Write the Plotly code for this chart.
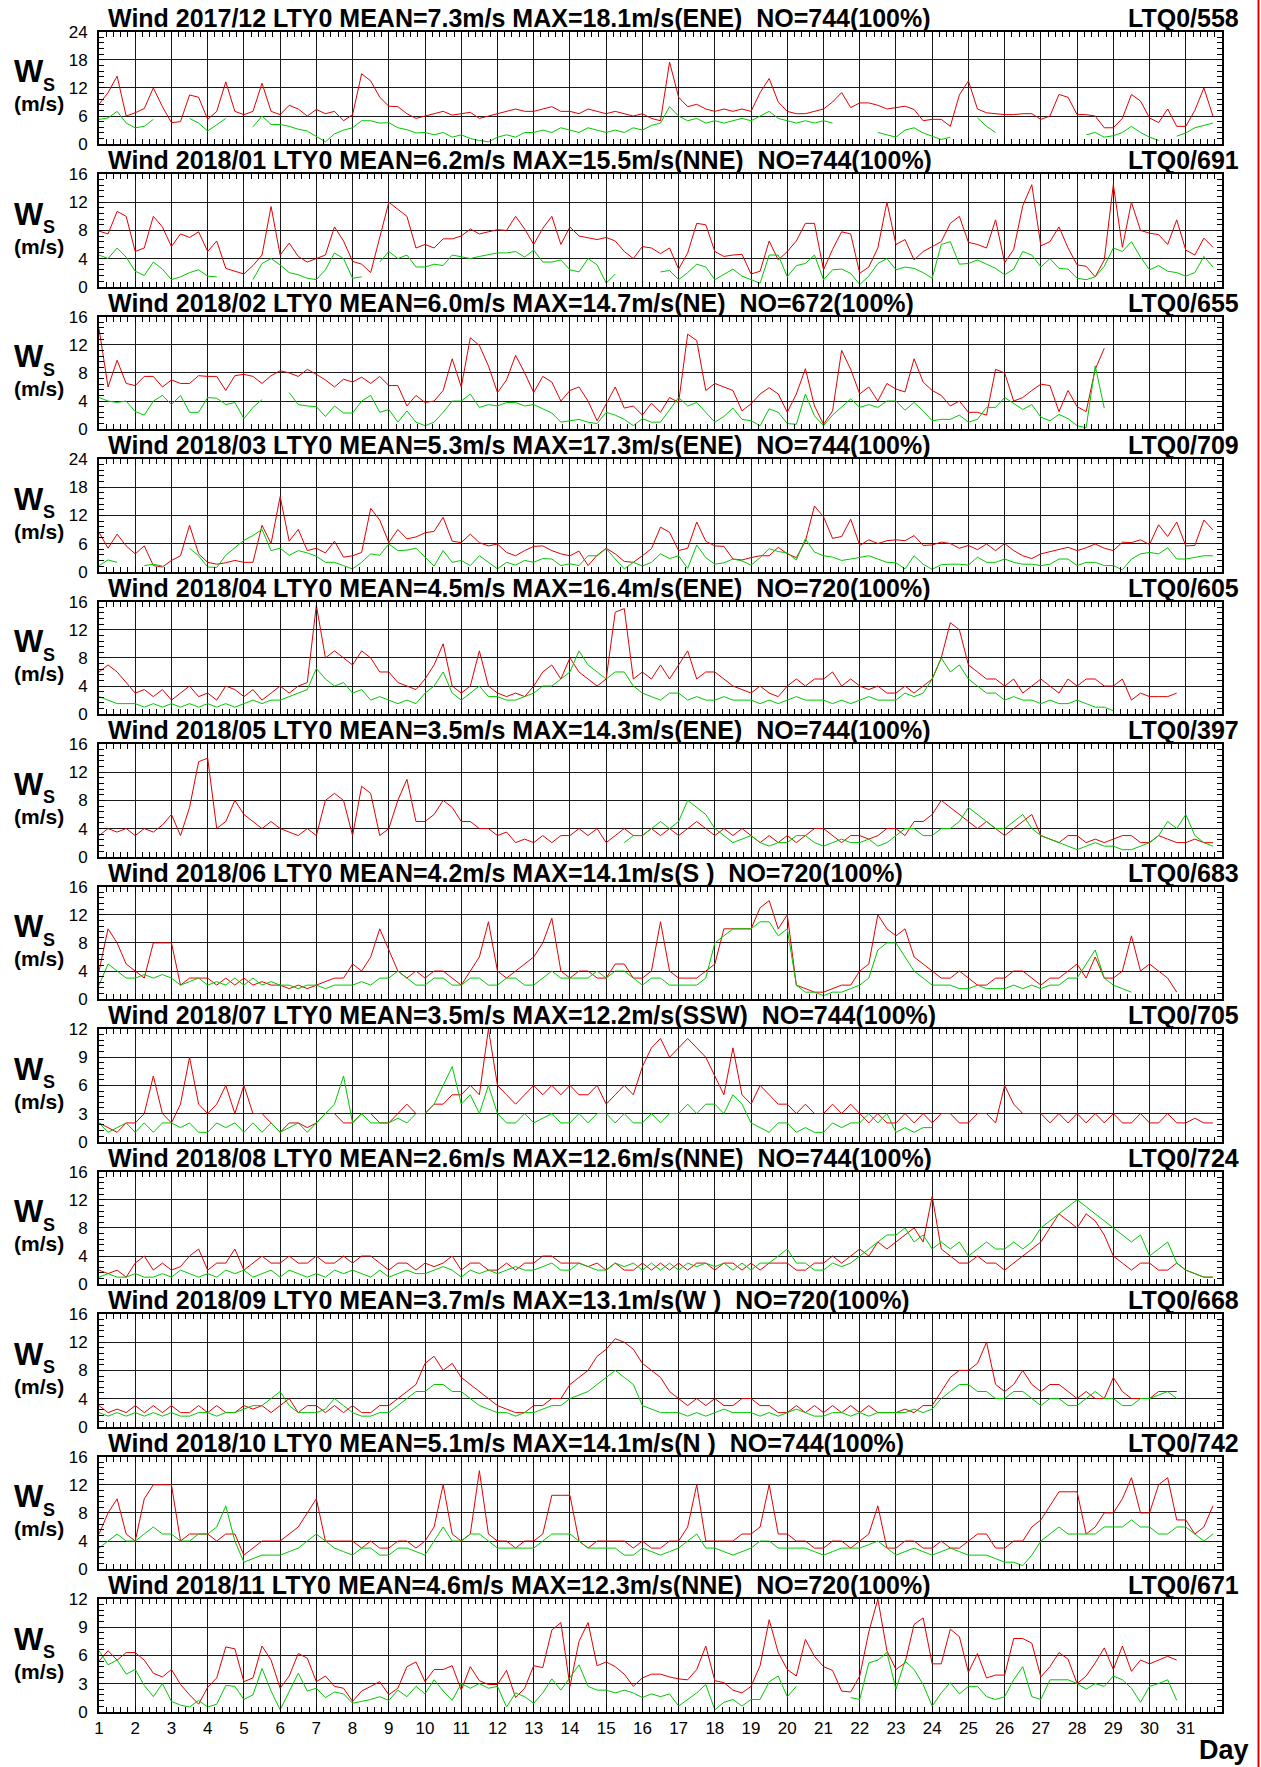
import plotly.graph_objects as go

months = ["2017/12", "2018/01", "2018/02", "2018/03", "2018/04", "2018/05",
          "2018/06", "2018/07", "2018/08", "2018/09", "2018/10", "2018/11"]
n_days = [31, 31, 28, 31, 30, 31, 30, 31, 31, 30, 31, 30]
y_max = [24, 16, 16, 24, 16, 16, 16, 12, 16, 16, 16, 12]
y_step = [6, 4, 4, 6, 4, 4, 4, 3, 4, 4, 4, 3]
mean_ws = [7.3, 6.2, 6.0, 5.3, 4.5, 3.5, 4.2, 3.5, 2.6, 3.7, 5.1, 4.6]
max_ws = [18.1, 15.5, 14.7, 17.3, 16.4, 14.3, 14.1, 12.2, 12.6, 13.1, 14.1, 12.3]
max_dir = ["ENE", "NNE", "NE", "ENE", "ENE", "ENE", "S ", "SSW", "NNE", "W ", "N ", "NNE"]
obs_no = [744, 744, 672, 744, 720, 744, 720, 744, 744, 720, 744, 720]
ltq_no = [558, 691, 655, 709, 605, 397, 683, 705, 724, 668, 742, 671]
day_ticks = list(range(1, 32))

N = None
# All series: 6-hourly readings (4 per day).
# ---- 2017/12 ----
red_1712 = [8.5, 11, 14.5, 6, 6.7, 7.6, 12, 8, 4.6, 4.8, 10.5, 10, 5.3, 7, 13.3, 7,
            6.3, 7, 13, 7, 6.3, 8.3, 7.5, 6, 7.4, 6.5, 7, 5, 6.3, 15, 13.5, 10,
            8.1, 8, 6.5, 5.5, 6, 6.5, 7, 6.2, 6.5, 6.8, 5.5, 6, 6.5, 7, 7.5, 7,
            7, 7.5, 8, 7, 7, 6.5, 7.5, 7, 6.5, 7, 6.5, 6, 6.5, 5.5, 5, 17.5,
            10, 8, 8.5, 7.5, 7, 7.5, 7, 7.5, 7, 11, 14, 9, 7, 6.5, 6.5, 7,
            7.5, 9, 11, 7.8, 8.8, 8.8, 8.3, 7.5, 7.8, 8.1, 7.4, 5, 5.3, 5.3, 3.8, 10.5,
            13.5, 7.5, 6.7, 6.5, 6.3, 6.3, 6.5, 6.5, 5.3, 6, 10.6, 10, 6.3, 6.3, 6, 3.5,
            3.5, 5.5, 10.6, 9.2, 5.6, 4.6, 7.5, 3.8, 3.8, 7.2, 12, 6]
green_1712 = [5.3, 5.6, 7, 4.5, 3.5, 3.8, 5.3, N, N, N, 5.5, 4.5, 2.8, 4.2, 5.5, N,
              N, 3.7, 6, 4.2, 4.2, 3.8, 3.2, 2.8, 1.7, 0.5, 2.2, 3, 3.5, 5, 5, 4.5,
              4.6, 3.5, 3.1, 2.4, 2.5, 2, 2.5, 1.5, 2, 1.2, 0.8, 0.5, 1.5, 2, 1.5, 2.5,
              2.5, 3, 2.5, 3.5, 3, 2.5, 3.5, 3, 2.5, 3, 2.5, 3.5, 3, 4, 4.5, 8,
              6, 5, 5.5, 4.5, 5, 4.5, 5, 5.5, 5, 6, 7, 5.5, 5, 4.5, 5, 4.5,
              5, 4.5, N, N, N, N, 2.5, 2, 1.5, 3, 3.5, 2.4, 1.7, 1, 1.5, N,
              N, 5.6, 3.8, 2.5, N, N, N, N, N, N, N, N, N, 2, 2.5, 1.5,
              1.8, 2.5, 3.8, 2.5, 1.5, 0.8, N, 1.7, 2.4, 3.5, 4, 4.5]
# ---- 2018/01 ----
red_1801 = [7.9, 7.5, 10.7, 10, 5, 5.5, 10, 8.5, 5.7, 7.5, 7, 7.8, 5, 6.5, 2.6, 2.2,
            1.8, 3, 4.5, 11.4, 4.5, 6.2, 4.3, 3.5, 4, 4.5, 8.5, 6.5, 3.6, 3.2, 2, 7,
            12, 11, 10, 5.5, 6, 5.5, 6.8, 6.8, 7.2, 8.2, 7.5, 7.8, 8.1, 8, 10, 8.2,
            6, 8.3, 10, 6, 8.5, 7.2, 7, 6.7, 7, 6.5, 5, 4, 5.7, 5.5, 4.7, 5.5,
            2.5, 4.8, 9, 8.8, 5, 4.3, 4.5, 4.6, 1.8, 2.2, 6.5, 3.8, 5, 6.5, 9, 9,
            2.4, 5.3, 7.8, 7.5, 1.9, 2.8, 5.5, 12, 6, 6.7, 3.8, 5, 5.7, 6.4, 9, 10,
            6.3, 6, 5.5, 9.5, 3.4, 5.3, 11.5, 14.5, 5.8, 6.4, 8.5, 5.5, 3.1, 2.9, 1.4, 3.8,
            14.5, 5.6, 12, 8, 7.6, 7.4, 6, 9.5, 5.2, 4.5, 6.9, 5.6]
green_1801 = [4.5, 4, 5.5, 4.2, 2.2, 1.6, 3.5, 2.5, 1, 1.4, 2, 2.4, 1.5, 1.4, N, N,
              N, 1, 3.3, 4, 3.1, 2, 1.7, 1.2, 1, 2.4, 4.8, 4, 1.2, 1.4, N, 3.5,
              5, 4, 4.5, 2.8, 2.8, 3.2, 3, 4.5, 4.2, 4, 4.3, 4.5, 4.8, 4.8, 5, 4.2,
              5.2, 3.5, 3.5, 3.8, 2.4, 2.1, 4, 3.1, 0.5, 1.8, N, N, N, N, 2.1, 2.3,
              1, 2, 3.2, 2.8, 1, 1.8, 2.5, 1.5, 1, 0.5, 4.5, 4.5, 1.4, 3, 3.3, 4.5,
              1, 2.4, 2.5, 1.9, 0.3, 1.5, 3.3, 4, 2.4, 2.8, 2.6, 2, 1.2, 6, 6.4, 3.2,
              3.3, 3.8, 3.2, 2.6, 1.7, 2.5, 5, 4.5, 2.8, 4, 2.6, 2.5, 1.2, 1, 1.4, 2.9,
              5.5, 5, 6.4, 4.2, 2.4, 3, 2.2, 2, 1.5, 2, 4.3, 2.8]
# ---- 2018/02 ----
red_1802 = [14.3, 6, 9.8, 6.5, 6.2, 7.5, 7.5, 6, 7, 6.5, 6.5, 7.6, 7.5, 7.5, 5.5, 7.6,
            7.8, 7.5, 6.5, 7.6, 8.3, 8, 7.5, 8.5, 7.8, 7, 6, 7.1, 6.7, 7.4, 6.5, 7.5,
            6.2, 6.2, 3.3, 4.8, 3.8, 4, 5.5, 10, 6, 13, 11.9, 9, 5.2, 7, 10.5, 8,
            5.2, 7.5, 6.7, 4, 5.5, 6, 4, 1.2, 3.6, 6, 3, 3.3, 2, 3.7, 2.4, 4.5,
            3.8, 13.5, 12.6, 5.5, 6.5, 6, 5.5, 2.6, 3.6, 5, 5.9, 5, 2.4, 5, 8.6, 3.3,
            0.7, 2.6, 11.2, 8.5, 5, 6, 4, 6.5, 5.7, 5.3, 10, 6.7, 5.5, 4.8, 3.3, 4,
            2.4, 2.4, 2, 8.5, 8, 4, 4.5, 5.5, 6.4, 6.2, 2.5, 5.5, 3.2, 2.5, 8.5, 11.5]
green_1802 = [4.5, 4, 3.8, 4, 2.5, 2, 4, 4.8, 3.5, 4.8, 2.4, 2.4, 4.5, 4.4, 3.5, 3.8,
              1.5, 3.1, 4.2, N, N, 5.2, 3.5, 3.3, 3.2, 1.8, 3.3, 2.3, 2.3, 4, 4.8, 2.4,
              2.8, 1, 2.6, 1, 0.5, 1, 2.4, 4, 4, 5, 3.1, 3.5, 3.3, 3.8, 3.8, 3.3,
              3.5, 2.9, 2.3, 1, 1.2, 1.4, 1, 0.8, 2.4, 2, 1.4, 0.5, 1.5, 1, 1, 2.8,
              4.5, 3.3, 3.8, 2.4, 1, 1.8, 3, 1.4, 1.2, 0.5, 2.9, 2.4, 0.8, 0.7, 5, 1.9,
              0.5, 2, 3.2, 4.3, 3.1, 3.5, 3.1, 4, 4, 2.7, 3.8, 2.6, 1.2, 1.4, 1.4, 2,
              1, 1.4, 3.1, 3.1, 4.5, 3.6, 2.8, 3.5, 1.7, 1.2, 2.1, 1.5, 0.5, 0.2, 9, 3]
# ---- 2018/03 ----
red_1803 = [8.4, 5, 8, 5.5, 3.8, 5.5, 1.3, 1, 2.4, 3.4, 9.9, 3.8, 2, 1.6, 1.9, 2.4,
            2, 2, 9.9, 6, 16, 6.5, 9, 4.5, 5, 4, 6.5, 3.1, 3.4, 4.1, 13.5, 11,
            6.2, 9, 7, 7.4, 8.3, 8.6, 11.6, 6.5, 6.2, 8, 6.2, 5.5, 5.9, 4.1, 3.4, 4.5,
            5.4, 5.5, 4.5, 3.8, 3.4, 4.4, 1.3, 3.5, 5, 3.8, 2.2, 2, 3.4, 4.9, 9.5, 8.4,
            4.5, 5, 10.6, 6.5, 5.5, 5.4, 2.7, 2.5, 3, 3.4, 3.4, 5.2, 3.8, 3, 6.5, 14,
            11.7, 7.1, 7.5, 11.2, 5.6, 6.8, 6, 6.6, 6.8, 6.6, 7.7, 5.6, 5.7, 6.3, 6, 5,
            5.6, 4.7, 5.9, 4.5, 6, 4.5, 3.4, 2.8, 3.8, 4.3, 4.8, 5.2, 4.5, 5.1, 5.9, 5,
            4.5, 6.3, 6.2, 6.8, 5.8, 10, 7.5, 10.6, 5.5, 5.6, 11, 8.9]
green_1803 = [1.3, 2.5, 2, N, N, 1.3, 1.6, 1.2, N, N, 5, 3.4, 1, 0.9, 3.5, 5,
              6.7, 7.7, 9, 4.5, 5, 3.5, 4.5, 4, 3.3, 2, 2, 1.3, 0.6, 2, 3.8, 3.5,
              5.9, 4.5, 4.6, 5, 3.2, 1.2, 4.5, 2, 2.4, 1.3, 3.4, 2, 0.6, 2, 1.4, 2.4,
              2, 2.8, 2.7, 1.3, 1.7, 1.3, 3.4, 3.4, 4.9, 2.7, 0.6, 2, 1.2, 2, 3.8, 2.8,
              3.4, 0.7, 5.7, 3, 1.6, 1.9, 2.7, 2.3, 1.4, 3, 4.9, 4.3, 4, 2.5, 7, 4.2,
              3.4, 3.1, 2.4, 2.7, 3, 3.4, 2.7, 2, 1.9, 0.6, 3.4, 1.6, 0.5, 1.5, 1.6, 1.6,
              1.4, 3.1, 2, 2, 2.7, 2, 1.6, 1.6, 1.3, 1.6, 2.7, 2.7, 1.3, 2, 2, 1.3,
              1.3, 0.4, 2.7, 3.8, 4.1, 3.8, 5.1, 2.7, 2.7, 3.1, 3.4, 3.4]
# ---- 2018/04 ----
red_1804 = [6, 7, 6, 4.5, 3, 3.5, 2.5, 3.5, 2, 3, 4, 2.5, 3, 2, 4, 3.5,
            2.5, 3.5, 2, 3, 4, 3, 4, 4.5, 15.5, 8, 9, 8, 7, 9, 8, 6,
            6, 4.5, 4, 3.5, 5, 7, 10, 4, 3, 4, 9, 4, 3, 2.5, 3, 2.5,
            4, 6, 7, 5, 8, 6, 5, 4, 5, 14.5, 15, 5, 6, 5, 7, 5,
            7, 9, 5, 6, 6, 5, 4, 3.5, 3, 4, 3, 2.5, 4, 5, 4, 5,
            5, 6, 4, 5, 4, 3.5, 4, 3, 3, 4, 3, 4, 5, 8, 13, 12,
            7, 6, 5, 5, 4, 5, 3, 4, 5, 4, 3, 5, 4, 5, 5, 4,
            4, 5, 2, 3, 2.5, 2.5, 2.5, 3]
green_1804 = [2.5, 2, 1.5, 1.5, 1.5, 1, 1.5, 1, 1.5, 1, 1.5, 1, 1.5, 1, 1.5, 1,
              1.5, 2, 1.5, 2, 2, 2.5, 3, 3.5, 6.5, 5, 4, 4.5, 3, 3.5, 2, 2.5,
              2, 1.5, 2, 1.5, 3, 4, 6, 3, 2, 3, 4, 2.5, 2.5, 2, 2, 2.5,
              3, 4, 4, 5, 6, 9, 7, 6, 5, 6, 6, 4, 3, 2.5, 2, 3,
              3, 2, 2.5, 2, 2, 2.5, 2, 2, 2, 1.5, 2, 1.5, 2, 2.5, 2, 2,
              2, 1.5, 2, 1.5, 2, 2.5, 2, 2, 2, 3, 2.5, 3, 5, 8, 6, 7,
              5, 4, 3, 3, 2, 2.5, 2, 2, 1.5, 2, 1.5, 1.5, 2, 1.5, 1, 1,
              0.5, N, N, N, N, N, N, N]
# ---- 2018/05 ----
red_1805 = [3, 4, 3.5, 4, 3, 4, 3.5, 4.5, 6, 3, 7, 13.5, 14, 4, 5, 8,
            6, 5, 4, 5, 4, 3.5, 3, 4, 3, 8, 9, 8, 3, 10, 9, 3,
            4, 8, 11, 5, 5, 6, 8, 7, 5, 5, 4, 4, 3, 3.5, 2, 2.5,
            2, 3, 2, 3, 3, 4, 3, 4, 2, 3, 4, 3, 3, 4, 3, 4,
            3, 4, 5, 4, 3, 4, 3, 4, 3, 2, 3, 2, 3, 2, 3, 4,
            4, 3, 2, 3, 3, 2.5, 3, 4, 4, 3, 5, 5, 6, 8, 7, 6,
            5, 4, 5, 4, 3, 4, 5, 6, 3, 2.5, 2, 3, 3, 2, 2.5, 2,
            2.5, 3, 3, 2, 2, 3, 2.5, 2, 2, 2.5, 2, 2]
green_1805 = [N, N, N, N, N, N, N, N, N, N, N, N, N, N, N, N,
              N, N, N, N, N, N, N, N, N, N, N, N, N, N, N, N,
              N, N, N, N, N, N, N, N, N, N, N, N, N, N, N, N,
              N, N, N, N, N, N, N, N, N, N, 2, 3, 3, 4, 5, 4,
              5, 8, 7, 6, 4, 3, 2, 2.5, 3, 2, 1.5, 2, 2, 3, 3, 2,
              1.5, 2, 2.5, 2, 2, 2.5, 1.5, 2, 3, 4, 4, 3, 3, 4, 4, 5,
              7, 6, 5, 4, 4, 5, 6, 4, 3, 2.5, 2, 1.5, 1, 1.5, 2, 1.5,
              1.5, 1, 1, 1.5, 2, 3, 5, 4, 6, 3, 2, 1.5]
# ---- 2018/06 ----
red_1806 = [4, 10, 8, 5, 4, 3, 8, 8, 8, 2, 3, 3, 3, 2, 3, 2,
            3, 2, 2.5, 2, 2, 1.5, 2, 1.5, 2, 2.5, 3, 3, 5, 4, 6, 10,
            7, 4, 3, 4, 3, 4, 4, 3, 2, 4, 6, 11, 4, 3, 4, 5,
            6, 8, 11.5, 4, 3, 4, 4, 3, 3, 5, 5, 3, 3, 4, 11, 4,
            3, 3, 3, 4, 5, 10, 10, 10, 10, 13, 14, 10, 12, 2, 1.5, 1,
            1, 1.5, 2, 2, 4, 5, 12, 10, 9, 10, 6, 5, 4, 3, 3, 4,
            3, 2, 2, 3, 3, 4, 4, 3, 2, 3, 3, 4, 5, 3, 6, 3,
            3, 4, 9, 4, 5, 4, 3, 1]
green_1806 = [2, 5, 4, 3, 3, 3.5, 3, 3.5, 3, 2, 2.5, 3, 2, 2.5, 2, 3,
              2, 3, 2, 2.5, 2, 2, 1.5, 2, 2, 1.5, 2, 2, 2, 2.5, 2, 3,
              3, 4, 3, 2, 2, 3, 3, 2, 2, 3, 3, 2, 2, 3, 3, 2,
              2, 3, 4, 3, 3, 3, 3, 4, 3, 4, 4, 3, 2, 3, 3, 2,
              2, 2, 2, 3, 8, 9, 10, 10, 10, 11, 11, 9, 10, 2, 1, 1,
              0.5, 1, 1, 1.5, 2, 3, 7, 8, 8, 6, 4, 3, 2, 2, 2, 1.5,
              1.5, 2, 1.5, 1.5, 1.5, 2, 1.5, 2, 1.5, 2, 2, 3, 3, 5, 7, 3,
              2, 1.5, 1, N, N, N, N, N]
# ---- 2018/07 ----
red_1807 = [2, 1.5, 1, 2, 2, 3, 7, 3, 2, 4, 9, 4, 3, 4, 6, 3,
            6, 3, 3, 2, 1, 2, 2, 1.5, 2, 3, 3, 2, 2, 3, 3, 2,
            2, 3, 4, 3, 3, 4, 4, 5, 5, 6, 5, 12, 6, 5, 4, 5,
            6, 5, 6, 5, 6, 5, 5, 6, 4, 5, 6, 5, 8, 10, 11, 9,
            10, 11, 10, 9, 7, 5, 10, 5, 4, 6, 5, 4, 4, 3, 4, 3,
            3, 4, 3, 4, 3, 2, 3, 2, 2, 3, 2, 3, 2, 3, 3, 2,
            2, 3, 3, 2, 6, 4, 3, 3, 3, 2, 3, 2, 3, 2, 3, 2,
            3, 2, 2, 3, 2, 2, 3, 2, 2, 2.5, 2, 2]
green_1807 = [2, 1, 1.5, 2, 1, 2, 1, 2, 2, 1.5, 2, 1, 1, 2, 1.5, 2,
              1, 2, 1, 2, 1, 1.5, 2, 1, 2, 3, 4, 7, 2, 3, 2, 2,
              2, 2.5, 2, 3, 3, 4, 6, 8, 4, 5, 3, 6, 3, 2, 2, 3,
              2, 2.5, 3, 2, 2, 3, 2, 3, 3, 2, 3, 2, 2, 3, 2, 3,
              3, 4, 3, 4, 4, 3, 5, 4, 2, 1.5, 1, 2, 2, 1, 1.5, 1,
              1, 2, 1.5, 2, 2, 3, 2, 3, 1, 1.5, 1, 1.5, 1.5, N, N, N,
              N, N, N, N, N, N, N, N, N, N, N, N, N, N, N, N,
              N, N, N, N, N, N, N, N, N, N, N, N]
# ---- 2018/08 ----
red_1808 = [2, 1.5, 2, 1, 3, 4, 2, 3, 2, 2.5, 4, 5, 2, 3, 3, 5,
            2, 3, 4, 3, 3, 4, 3, 3, 4, 3, 3, 4, 3, 4, 4, 3,
            2, 3, 3, 2, 3, 2.5, 3, 4, 2, 3, 3, 2, 2, 3, 2, 3,
            3, 4, 4, 3, 3, 3, 2.5, 3, 2, 3, 2, 2, 3, 2, 3, 2,
            3, 2, 3, 3, 2, 3, 3, 2, 3, 2, 3, 3, 3, 2, 2, 3,
            3, 4, 3, 4, 5, 4, 6, 5, 6, 7, 8, 6, 12.5, 5, 4, 3,
            3, 4, 3, 3, 2, 3, 4, 5, 6, 8, 10, 9, 8, 10, 9, 7,
            4, 3, 2, 3, 3, 2, 2, 3, 2, 1.5, 1, 1]
green_1808 = [1, 1.5, 1, 1, 1.5, 1, 1, 1.5, 1, 2, 1.5, 1, 1.5, 1, 2, 1.5,
              2, 1, 1.5, 2, 1, 2, 1.5, 1, 1.5, 1, 2, 1.5, 2, 1.5, 1, 2,
              1, 1.5, 2, 1.5, 1.5, 2, 2.5, 2, 1, 2, 1.5, 2, 1.5, 2, 2.5, 2,
              2, 2.5, 3, 2, 2, 3, 2.5, 2, 2, 3, 2.5, 3, 2, 3, 2, 3,
              2, 3, 2.5, 3, 2.5, 3, 2, 3, 2, 3, 3, 4, 5, 3, 3, 2,
              2, 3, 2.5, 3, 4, 5, 6, 7, 7, 8, 6, 7, 5, 6, 5, 6,
              4, 5, 6, 5, 5, 6, 5, 6, 8, 9, 10, 11, 12, 11, 10, 9,
              8, 7, 6, 7, 4, 5, 6, 3, 2, 1.5, 1, 1]
# ---- 2018/09 ----
red_1809 = [3, 2, 2.5, 2, 3, 2, 3, 2, 3, 2, 2, 3, 2, 3, 2, 2,
            3, 2.5, 3, 2, 3, 4, 2, 3, 3, 2, 3, 2, 3, 2, 2, 3,
            3, 4, 5, 6, 9, 10, 8, 9, 7, 6, 5, 4, 3, 2.5, 2, 2,
            3, 3, 4, 4, 6, 7, 8, 10, 11, 12.5, 12, 11, 9, 8, 7, 5,
            4, 3, 4, 3, 4, 3, 3, 4, 4, 3, 3, 2, 2, 3, 2, 3,
            2, 3, 2, 3, 2, 3, 2, 2, 2, 2.5, 2, 3, 3, 5, 7, 8,
            8, 9, 12, 6, 5, 6, 8, 6, 5, 6, 6, 5, 4, 5, 4, 4,
            7, 5, 4, 4, 4, 5, 5, 5]
green_1809 = [2, 1.5, 2, 1.5, 2, 1.5, 2, 1.5, 2, 1.5, 1.5, 2, 2, 1.5, 2, 2,
              2.5, 3, 3, 4, 5, 3, 2, 2, 2, 2.5, 4, 3, 2, 1.5, 1.5, 2,
              2, 3, 4, 5, 5, 6, 6, 5, 5, 4, 3, 2.5, 2, 2, 1.5, 2,
              2, 2.5, 3, 3, 4, 4.5, 5, 6, 7, 8, 7, 6, 3, 2.5, 2, 2,
              2, 1.5, 2, 1.5, 2, 2.5, 2, 2, 2, 1.5, 2, 1.5, 2, 2.5, 2, 1.5,
              1.5, 2, 2, 1.5, 2, 1.5, 2, 2, 2, 2, 2.5, 2, 2.5, 4, 5, 6,
              6, 5, 5, 4, 4, 5, 5, 4, 3, 4, 4, 3, 3, 4, 5, 4,
              4, 3, 3, 4, 4, 4.5, 5, 4]
# ---- 2018/10 ----
red_1810 = [5, 8, 10, 5, 4, 10, 12, 12, 12, 4, 5, 5, 5, 4, 5, 5,
            2, 3, 4, 4, 4, 5, 6, 8, 10, 4, 4, 4, 4, 3, 4, 3,
            3, 4, 4, 3, 4, 6, 12, 5, 4, 5, 14, 5, 4, 4, 3, 4,
            4, 5, 10.5, 10.5, 10.5, 4, 3, 4, 4, 4, 4, 3, 4, 3, 3, 4,
            4, 6, 12, 4, 4, 4, 4, 5, 5, 6, 12, 5, 5, 4, 4, 3,
            3, 4, 4, 3, 4, 5, 9, 3, 3, 4, 4, 3, 3, 4, 3, 3,
            4, 5, 5, 3, 3, 4, 4, 6, 7, 9, 11, 11, 11, 5, 6, 8,
            8, 10, 13, 8, 8, 12, 13, 7, 7, 5, 6, 9]
green_1810 = [3, 4, 5, 4, 4, 5, 6, 5, 5, 4, 4, 5, 5, 6, 9, 4,
              1, 1.5, 2, 2, 2, 2.5, 3, 4, 5, 4, 3, 2.5, 2, 3, 3, 2,
              2, 3, 3, 2.5, 2, 4, 6, 4, 4, 5, 5, 4, 3, 3, 3, 3,
              3, 4, 5, 5, 5, 4, 3, 3, 3, 3, 2, 2, 3, 2.5, 2, 2.5,
              3, 4, 5, 3, 3, 2.5, 2, 2.5, 3, 4, 4, 3, 3, 3, 3, 2.5,
              2, 2.5, 3, 3, 3, 3.5, 4, 3, 2, 2.5, 3, 2.5, 2, 2.5, 3, 2.5,
              2, 2, 2, 1.5, 1, 1, 0.5, 2, 4, 5, 6, 5, 5, 5, 5, 6,
              6, 6, 7, 6, 6, 5, 5, 6, 6, 5, 4, 5]
# ---- 2018/11 ----
red_1811 = [5.4, 6.5, 5.5, 6.3, 6.3, 5.5, 4.1, 3.7, 4.5, 2.9, 1.8, 0.8, 2.6, 3.6, 6.9, 6.7,
            3.2, 3.6, 7, 5.5, 2.5, 3.8, 6.2, 5.7, 3.2, 3.8, 2.7, 2.5, 1.1, 2.2, 2.7, 3.2,
            1.8, 2.5, 4.8, 5.3, 3.2, 4.5, 4.5, 4.9, 2.3, 4.8, 3.3, 2.9, 2.9, 4.4, 1.5, 2.5,
            4.9, 4.7, 8.7, 9.5, 2.7, 7.5, 9.5, 4.9, 5.3, 4.8, 4, 2.7, 3.6, 4, 4, 3.7,
            3.5, 3.4, 4.5, 7, 3.3, 3.1, 2.3, 2, 2.7, 4.9, 9.8, 6.3, 4.5, 3.8, 7.7, 5.9,
            4.8, 4.4, 2.2, 2.1, 3.8, 8.5, 12, 6.5, 4.5, 5.2, 9.3, 10, 5.1, 5.1, 8.8, 8,
            4.2, 6.2, 3.6, 3.9, 3.9, 7.8, 7.8, 7.3, 3.7, 4.8, 6.3, 5.6, 3, 3.8, 5.2, 6.8,
            4.5, 7, 4.3, 5.5, 5.1, 5.5, 5.9, 5.5]
green_1811 = [6.5, 5, 5.5, 4, 4.5, 2.8, 1.6, 3, 1.1, 0.7, 0.5, 1.2, 0.5, 0.8, 2.8, 2.7,
              1.3, 1.8, 4.6, 2.2, 0.2, 2.1, 4.1, 2.2, 2.5, 1.5, 2.1, 1.9, 0.9, 1.1, 1.3, 1.6,
              1.2, 2.3, 1.6, 2.7, 1.9, 3.4, 2.2, 1.2, 3, 2.5, 3, 2.5, 2.7, 0.5, 2, 1.6,
              0.9, 2, 3.5, 2.3, 3.7, 5, 2.7, 2.3, 2.3, 2, 2.3, 2, 1.5, 1.9, 1.6, 1.9,
              0.6, 1.3, 2, 2.9, 0.2, 1, 1.3, 0.6, 1.3, 1.3, 3.2, 3.8, 1.6, 2.7, N, N,
              N, N, N, 1.5, 1.3, 5.2, 5.5, 6.3, 2.4, 5.4, 4.5, 2.9, 0.6, 2, 3.1, 1.9,
              2.7, 2.7, 1.6, 1.3, 1.6, 3.4, 4.8, 1.6, 1.3, 3.4, 3.4, 3.4, 3, 2.4, 3, 2.7,
              3.8, 3.4, 2.5, 1, 2.7, 3, 3.4, 1.2]

red_series = [red_1712, red_1801, red_1802, red_1803, red_1804, red_1805,
              red_1806, red_1807, red_1808, red_1809, red_1810, red_1811]
green_series = [green_1712, green_1801, green_1802, green_1803, green_1804, green_1805,
                green_1806, green_1807, green_1808, green_1809, green_1810, green_1811]

# ---------------- layout ----------------
W, H = 1261, 1767
X0, X1 = 99, 1222
TOP0, PITCH, PH = 31.6, 142.5, 112.6
RED, GREEN = "#e00000", "#00c800"
FONT = "Liberation Sans, Arial, sans-serif"
NB = "\u00a0"

fig = go.Figure()
layout = dict(width=W, height=H,
              margin=dict(l=0, r=0, t=0, b=0, pad=0, autoexpand=False),
              paper_bgcolor="white", plot_bgcolor="white", showlegend=False,
              font=dict(family=FONT, color="black"))
annotations = []

def px_y(p):
    return 1 - p / H

for i in range(12):
    top = TOP0 + i * PITCH
    bot = top + PH
    k = "" if i == 0 else str(i + 1)
    nd = n_days[i]
    for series, color in ((red_series[i], RED), (green_series[i], GREEN)):
        step = nd / len(series)
        xs = [1 + j * step for j in range(len(series))]
        fig.add_trace(go.Scatter(x=xs, y=series, mode="lines", connectgaps=False,
                                 line=dict(color=color, width=1),
                                 xaxis="x" + k, yaxis="y" + k, hoverinfo="skip"))
    last = (i == 11)
    layout["xaxis" + k] = dict(
        domain=[X0 / W, X1 / W], anchor="y" + k, range=[1, 32], fixedrange=True,
        automargin=False,
        tickmode="array", tickvals=day_ticks, ticktext=[str(d) for d in day_ticks],
        showticklabels=last, tickfont=dict(size=17, family=FONT, color="black"),
        ticks="inside", ticklen=6, tickcolor="black",
        showgrid=True, gridcolor="#1a1a1a", gridwidth=1, zeroline=False,
        showline=True, linecolor="black", linewidth=2, mirror="allticks",
        minor=dict(tickmode="linear", tick0=1, dtick=0.2, ticks="inside", ticklen=5,
                   tickcolor="black", tickwidth=1, showgrid=False))
    ys = y_step[i]
    layout["yaxis" + k] = dict(
        domain=[px_y(bot), px_y(top)], anchor="x" + k, range=[0, y_max[i]], fixedrange=True,
        automargin=False,
        tickmode="linear", tick0=0, dtick=ys,
        tickfont=dict(size=17, family=FONT, color="black"), ticklabelstandoff=6,
        ticks="inside", ticklen=6, tickcolor="black",
        showgrid=True, gridcolor="#1a1a1a", gridwidth=1, zeroline=False,
        showline=True, linecolor="black", linewidth=2, mirror="allticks",
        minor=dict(tickmode="linear", tick0=0, dtick=ys / 5, ticks="inside", ticklen=5,
                   tickcolor="black", tickwidth=1, showgrid=False))
    title = (f"Wind {months[i]} LTY0 MEAN={mean_ws[i]:.1f}m/s MAX={max_ws[i]:.1f}m/s"
             f"({max_dir[i].replace(' ', NB)}){NB}{NB}NO={obs_no[i]}(100%)")
    annotations.append(dict(text=f"<b>{title}</b>", x=106 / W, y=px_y(top + 2),
                            xref="paper", yref="paper", xanchor="left", yanchor="bottom",
                            showarrow=False, font=dict(size=25, family=FONT)))
    annotations.append(dict(text=f"<b>LTQ0/{ltq_no[i]}</b>", x=1241 / W, y=px_y(top + 2),
                            xref="paper", yref="paper", xanchor="right", yanchor="bottom",
                            showarrow=False, font=dict(size=25, family=FONT)))
    annotations.append(dict(text="<b>W</b>", x=12 / W, y=px_y(top + 40),
                            xref="paper", yref="paper", xanchor="left", yanchor="middle",
                            showarrow=False, font=dict(size=31, family=FONT)))
    annotations.append(dict(text="<b>S</b>", x=41 / W, y=px_y(top + 53),
                            xref="paper", yref="paper", xanchor="left", yanchor="middle",
                            showarrow=False, font=dict(size=18, family=FONT)))
    annotations.append(dict(text="<b>(m/s)</b>", x=12 / W, y=px_y(top + 72),
                            xref="paper", yref="paper", xanchor="left", yanchor="middle",
                            showarrow=False, font=dict(size=21, family=FONT)))

annotations.append(dict(text="<b>Day</b>", x=1251 / W, y=px_y(1750),
                        xref="paper", yref="paper", xanchor="right", yanchor="middle",
                        showarrow=False, font=dict(size=27, family=FONT)))
layout["annotations"] = annotations
layout["shapes"] = [dict(type="line", xref="paper", yref="paper",
                         x0=1258.5 / W, x1=1258.5 / W, y0=0, y1=1,
                         line=dict(color="#e00000", width=2))]
fig.update_layout(**layout)
fig.write_html("out.html", config={"displayModeBar": False, "staticPlot": True},
               post_script="document.body.style.margin='0';document.body.style.overflow='hidden';")
